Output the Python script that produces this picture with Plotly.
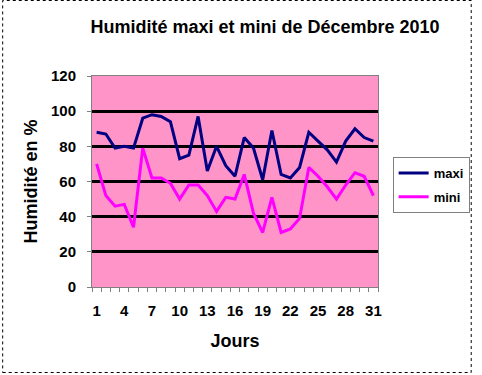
import plotly.graph_objects as go

jours = list(range(1, 32))
maxi = [88, 87, 79, 80, 79, 96, 98, 97, 94, 73, 75, 97, 66, 80, 69,
        63, 85, 79, 61, 89, 64, 62, 68, 88, 83, 78, 71, 83, 90, 85, 83]
mini = [70, 52, 46, 47, 34, 79, 62, 62, 59, 50, 58, 58, 52, 43, 51,
        50, 64, 42, 31, 51, 31, 33, 39, 68, 63, 57, 50, 58, 65, 63, 52]
x_ticks = [1, 4, 7, 10, 13, 16, 19, 22, 25, 28, 31]
y_ticks = [0, 20, 40, 60, 80, 100, 120]

FONT = "Liberation Sans, Arial, sans-serif"

fig = go.Figure()
fig.add_trace(go.Scatter(x=jours, y=maxi, mode="lines", name="<b>maxi</b>",
                         legendgroup="a",
                         line=dict(color="#000080", width=3)))
fig.add_trace(go.Scatter(x=jours, y=mini, mode="lines", name="<b>mini</b>",
                         legendgroup="b",
                         line=dict(color="#FF00FF", width=3)))

L, R, T, B = 92, 97, 76, 88
W, H = 482, 375
pw, ph = W - L - R, H - T - B

def px(x):
    return (x - L) / pw

def py(y):
    return (H - B - y) / ph

fig.update_layout(
    width=W, height=H,
    margin=dict(l=L, r=R, t=T, b=B),
    paper_bgcolor="white",
    plot_bgcolor="#FF94C8",
    font=dict(family=FONT, color="black", size=14),
    title=dict(text="<b>Humidité maxi et mini de Décembre 2010</b>",
               x=265 / W, xanchor="center", y=1 - 27 / H, yanchor="middle",
               font=dict(size=18)),
    showlegend=True,
    legend=dict(x=px(400), y=py(157), xanchor="left", yanchor="top",
                bgcolor="white", bordercolor="#808080", borderwidth=1,
                font=dict(size=13, family=FONT),
                itemwidth=30, tracegroupgap=4),
    xaxis=dict(range=[0.5, 31.5], tickvals=x_ticks, ticktext=[f"<b>{v}</b>" for v in x_ticks],
               ticks="", showgrid=False, zeroline=False,
               showline=True, linecolor="#808080", linewidth=1, mirror=True,
               minor=dict(tick0=0.5, dtick=1, ticks="outside", ticklen=4,
                          tickcolor="#808080", showgrid=False),
               tickfont=dict(size=15), ticklabelstandoff=10,
               title=dict(text="<b>Jours</b>", font=dict(size=18), standoff=16)),
    yaxis=dict(range=[0, 120], tickvals=y_ticks, ticktext=[f"<b>{v}</b>" for v in y_ticks],
               ticks="outside", ticklen=4, tickcolor="#808080",
               showgrid=True, gridcolor="black", gridwidth=2.5, zeroline=False,
               showline=True, linecolor="#808080", linewidth=1, mirror=True,
               tickfont=dict(size=15), ticklabelstandoff=8,
               title=dict(text="<b>Humidité en %</b>", font=dict(size=18), standoff=8)),
    shapes=[dict(type="rect", xref="paper", yref="paper",
                 x0=px(0.5), x1=px(480.5), y0=py(372.5), y1=py(0.5),
                 line=dict(color="black", width=1, dash="dot"), layer="below")],
)

fig.write_html("out.html")
